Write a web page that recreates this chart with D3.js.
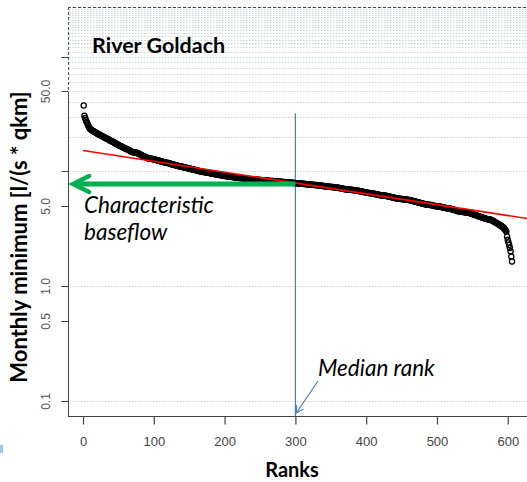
<!DOCTYPE html>
<html>
<head>
<meta charset="utf-8">
<script src="https://cdn.jsdelivr.net/npm/d3@7"></script>
<style>
  body { margin: 0; background: #fff; }
  svg { display: block; }
</style>
</head>
<body>
<div id="chart"></div>
<script>
// monthly minimum flow, sorted, rank 1..606
var minimumFlow = [
    37.5, 30.5, 29.1, 28.0, 27.0, 26.2, 25.3, 24.6, 23.8, 23.4,
    23.1, 22.9, 22.7, 22.5, 22.3, 22.1, 22.0, 21.8, 21.6, 21.4,
    21.2, 21.0, 20.9, 20.7, 20.5, 20.4, 20.2, 20.1, 19.9, 19.8,
    19.6, 19.5, 19.3, 19.2, 19.0, 18.9, 18.8, 18.6, 18.5, 18.4,
    18.2, 18.1, 17.9, 17.8, 17.6, 17.5, 17.4, 17.2, 17.1, 16.9,
    16.8, 16.7, 16.6, 16.5, 16.4, 16.3, 16.1, 16.0, 15.9, 15.8,
    15.7, 15.6, 15.5, 15.4, 15.3, 15.2, 15.0, 14.9, 14.8, 14.7,
    14.7, 14.7, 14.6, 14.6, 14.5, 14.5, 14.4, 14.3, 14.2, 14.1,
    14.0, 13.9, 13.8, 13.7, 13.6, 13.5, 13.4, 13.4, 13.3, 13.2,
    13.1, 13.0, 13.0, 12.9, 12.9, 12.9, 12.8, 12.8, 12.8, 12.7,
    12.7, 12.6, 12.6, 12.5, 12.5, 12.4, 12.4, 12.3, 12.3, 12.2,
    12.2, 12.1, 12.1, 12.0, 12.0, 12.0, 11.9, 11.9, 11.8, 11.8,
    11.8, 11.7, 11.7, 11.6, 11.6, 11.5, 11.5, 11.4, 11.4, 11.3,
    11.3, 11.3, 11.2, 11.2, 11.1, 11.1, 11.0, 11.0, 11.0, 10.9,
    10.9, 10.9, 10.8, 10.8, 10.8, 10.7, 10.7, 10.7, 10.6, 10.6,
    10.6, 10.5, 10.5, 10.4, 10.4, 10.4, 10.3, 10.3, 10.2, 10.2,
    10.2, 10.1, 10.1, 10.0, 10.0, 10.0, 9.95, 9.92, 9.90, 9.87,
    9.85, 9.82, 9.80, 9.77, 9.75, 9.72, 9.70, 9.68, 9.65, 9.62,
    9.60, 9.57, 9.55, 9.52, 9.50, 9.48, 9.45, 9.43, 9.40, 9.38,
    9.35, 9.33, 9.30, 9.28, 9.25, 9.22, 9.20, 9.18, 9.15, 9.13,
    9.11, 9.09, 9.07, 9.05, 9.04, 9.02, 9.00, 8.99, 8.97, 8.95,
    8.93, 8.91, 8.90, 8.88, 8.86, 8.84, 8.82, 8.81, 8.79, 8.77,
    8.76, 8.74, 8.72, 8.70, 8.69, 8.67, 8.66, 8.64, 8.63, 8.62,
    8.60, 8.59, 8.58, 8.57, 8.56, 8.55, 8.54, 8.52, 8.51, 8.50,
    8.49, 8.48, 8.47, 8.46, 8.45, 8.44, 8.43, 8.42, 8.41, 8.40,
    8.39, 8.38, 8.37, 8.36, 8.35, 8.34, 8.33, 8.32, 8.31, 8.30,
    8.29, 8.28, 8.27, 8.26, 8.25, 8.24, 8.23, 8.22, 8.21, 8.20,
    8.19, 8.18, 8.17, 8.16, 8.15, 8.14, 8.13, 8.12, 8.11, 8.10,
    8.09, 8.08, 8.07, 8.06, 8.05, 8.04, 8.03, 8.02, 8.01, 8.00,
    7.99, 7.98, 7.97, 7.96, 7.95, 7.94, 7.93, 7.92, 7.91, 7.90,
    7.89, 7.88, 7.87, 7.86, 7.85, 7.84, 7.82, 7.81, 7.80, 7.79,
    7.78, 7.77, 7.76, 7.75, 7.74, 7.72, 7.71, 7.70, 7.69, 7.68,
    7.67, 7.66, 7.65, 7.64, 7.63, 7.62, 7.61, 7.60, 7.59, 7.58,
    7.57, 7.56, 7.55, 7.54, 7.53, 7.52, 7.50, 7.48, 7.46, 7.44,
    7.42, 7.40, 7.39, 7.38, 7.37, 7.36, 7.35, 7.34, 7.33, 7.32,
    7.31, 7.30, 7.29, 7.28, 7.27, 7.26, 7.25, 7.24, 7.22, 7.20,
    7.18, 7.16, 7.14, 7.12, 7.10, 7.08, 7.06, 7.04, 7.02, 7.00,
    6.98, 6.97, 6.96, 6.95, 6.94, 6.93, 6.92, 6.91, 6.90, 6.89,
    6.88, 6.87, 6.86, 6.85, 6.84, 6.82, 6.80, 6.78, 6.76, 6.74,
    6.72, 6.70, 6.68, 6.66, 6.64, 6.62, 6.60, 6.58, 6.56, 6.54,
    6.52, 6.50, 6.49, 6.48, 6.47, 6.46, 6.45, 6.44, 6.42, 6.40,
    6.38, 6.36, 6.34, 6.32, 6.30, 6.28, 6.26, 6.24, 6.22, 6.20,
    6.19, 6.18, 6.17, 6.16, 6.15, 6.14, 6.13, 6.12, 6.10, 6.08,
    6.06, 6.04, 6.02, 6.00, 5.98, 5.96, 5.94, 5.92, 5.90, 5.88,
    5.86, 5.84, 5.82, 5.80, 5.79, 5.78, 5.77, 5.76, 5.75, 5.74,
    5.73, 5.72, 5.71, 5.70, 5.69, 5.68, 5.67, 5.66, 5.65, 5.64,
    5.62, 5.60, 5.58, 5.56, 5.54, 5.52, 5.50, 5.48, 5.46, 5.44,
    5.42, 5.40, 5.38, 5.36, 5.34, 5.32, 5.30, 5.28, 5.26, 5.24,
    5.22, 5.20, 5.18, 5.16, 5.15, 5.14, 5.13, 5.12, 5.11, 5.10,
    5.09, 5.08, 5.06, 5.04, 5.02, 5.00, 4.99, 4.98, 4.97, 4.96,
    4.95, 4.94, 4.93, 4.92, 4.91, 4.90, 4.88, 4.86, 4.84, 4.82,
    4.81, 4.80, 4.79, 4.78, 4.77, 4.76, 4.75, 4.74, 4.72, 4.70,
    4.68, 4.66, 4.64, 4.62, 4.60, 4.58, 4.56, 4.54, 4.52, 4.50,
    4.49, 4.48, 4.47, 4.46, 4.45, 4.44, 4.43, 4.42, 4.41, 4.40,
    4.39, 4.38, 4.37, 4.36, 4.35, 4.33, 4.31, 4.29, 4.27, 4.25,
    4.23, 4.21, 4.19, 4.17, 4.15, 4.13, 4.11, 4.09, 4.07, 4.05,
    4.03, 4.01, 3.99, 3.97, 3.95, 3.93, 3.91, 3.89, 3.87, 3.85,
    3.84, 3.83, 3.82, 3.81, 3.80, 3.78, 3.76, 3.73, 3.70, 3.67,
    3.64, 3.61, 3.58, 3.55, 3.52, 3.49, 3.46, 3.43, 3.40, 3.37,
    3.34, 3.30, 3.26, 3.22, 3.17, 3.11,
    3.05, 2.99, 2.71, 2.54, 2.40, 2.28, 2.15, 2.01, 1.81, 1.64
];

// log-linear fit drawn in red: [rank, value]
var fitLine = [[0, 15.2], [640, 3.78]];

var xTicks = [0, 100, 200, 300, 400, 500, 600];
var yTicks = [0.1, 0.5, 1, 5, 10, 50, 100];
var yTickLabels = { 0.1: '0.1', 0.5: '0.5', 1: '1.0', 5: '5.0', 50: '50.0' };
// dotted grid: 0.1, 1 and every 10 upward
var gridValues = [0.1, 1].concat(d3.range(10, 280, 10));

var medianRank = 300;
var baseflowValue = 7.75;

var width = 527, height = 482;

var svg = d3.select('#chart')
    .append('svg')
    .attr('width', width)
    .attr('height', height);

var x = d3.scaleLinear()
    .domain([-21.2, 630])
    .range([68, 529]);

var y = d3.scaleLog()
    .domain([0.074, 270])
    .range([416, 7]);

var tickFont = '"Liberation Sans", Arial, sans-serif';
var titleFont = 'Lato, "Open Sans", sans-serif';

// grid
svg.append('g')
    .selectAll('line')
    .data(gridValues)
    .enter()
    .append('line')
    .attr('x1', 69)
    .attr('x2', width)
    .attr('y1', function(d) { return Math.round(y(d)) + 0.5; })
    .attr('y2', function(d) { return Math.round(y(d)) + 0.5; })
    .attr('stroke', '#ccd2dc')
    .attr('stroke-width', 1)
    .attr('stroke-dasharray', '1.5,1.5');

// box: top dashed, left axis
svg.append('line')
    .attr('x1', 68).attr('x2', width)
    .attr('y1', 7.5).attr('y2', 7.5)
    .attr('stroke', '#444')
    .attr('stroke-dasharray', '3,2');

svg.append('line')
    .attr('x1', 68.5).attr('x2', 68.5)
    .attr('y1', 7).attr('y2', 95)
    .attr('stroke', '#555')
    .attr('stroke-dasharray', '3,2');

svg.append('line')
    .attr('x1', 68.5).attr('x2', 68.5)
    .attr('y1', 95).attr('y2', 416.5)
    .attr('stroke', '#444');

svg.append('line')
    .attr('x1', 68).attr('x2', width)
    .attr('y1', 416.5).attr('y2', 416.5)
    .attr('stroke', '#444');

// y axis
var yAxis = d3.axisLeft(y)
    .tickValues(yTicks)
    .tickSize(7)
    .tickFormat(function(d) { return yTickLabels[d] || ''; });

var yg = svg.append('g')
    .attr('transform', 'translate(68.5,0)')
    .call(yAxis);

yg.select('.domain').remove();
yg.selectAll('.tick').attr('transform', function(d) { return 'translate(0,' + (Math.round(y(d)) + 0.5) + ')'; });
yg.selectAll('.tick line').attr('stroke', '#444');
yg.selectAll('.tick text')
    .attr('x', 0)
    .attr('y', 0)
    .attr('dy', '0.35em')
    .attr('transform', 'translate(-23,0) rotate(-90)')
    .attr('text-anchor', 'middle')
    .attr('fill', '#555')
    .style('font-family', tickFont)
    .style('font-size', '12px');

// x axis
var xAxis = d3.axisBottom(x)
    .tickValues(xTicks)
    .tickSize(8)
    .tickPadding(12);

var xg = svg.append('g')
    .attr('transform', 'translate(0,416.5)')
    .call(xAxis);

xg.select('.domain').remove();
xg.selectAll('.tick line').attr('stroke', '#444').attr('stroke-width', 1.2);
xg.selectAll('.tick text')
    .attr('fill', '#444')
    .style('font-family', tickFont)
    .style('font-size', '13px');

// median rank line
svg.append('line')
    .attr('x1', x(medianRank)).attr('x2', x(medianRank))
    .attr('y1', y(32)).attr('y2', 416)
    .attr('stroke', '#4a7fc1')
    .attr('stroke-width', 1.2);

// points
svg.append('g')
    .selectAll('circle')
    .data(minimumFlow)
    .enter()
    .append('circle')
    .attr('cx', function(d, i) { return x(i + 1); })
    .attr('cy', function(d) { return y(d); })
    .attr('r', 2.6)
    .attr('fill', 'none')
    .attr('stroke', '#000')
    .attr('stroke-width', 1.3);

// red fit
svg.append('path')
    .datum(fitLine)
    .attr('d', d3.line()
        .x(function(d) { return x(d[0]); })
        .y(function(d) { return y(d[1]); }))
    .attr('fill', 'none')
    .attr('stroke', '#ff0000')
    .attr('stroke-width', 1.6);

// green baseflow arrow
var gy = y(baseflowValue);
var tipX = x(-14);
svg.append('line')
    .attr('x1', x(medianRank)).attr('x2', tipX + 3)
    .attr('y1', gy).attr('y2', gy)
    .attr('stroke', '#00b050')
    .attr('stroke-width', 5);

svg.append('path')
    .attr('d', 'M' + (tipX + 16) + ',' + (gy - 8) + 'L' + tipX + ',' + gy + 'L' + (tipX + 16) + ',' + (gy + 8))
    .attr('fill', 'none')
    .attr('stroke', '#00b050')
    .attr('stroke-width', 4.5)
    .attr('stroke-linecap', 'round');

// median rank pointer
var mx = x(medianRank);
svg.append('line')
    .attr('x1', 318).attr('x2', mx + 1)
    .attr('y1', 381).attr('y2', 413)
    .attr('stroke', '#4a7fc1')
    .attr('stroke-width', 1.2);
svg.append('path')
    .attr('d', 'M' + (mx + 1) + ',' + 405 + 'L' + (mx + 1) + ',' + 413 + 'L' + (mx + 8) + ',' + 409)
    .attr('fill', 'none')
    .attr('stroke', '#4a7fc1')
    .attr('stroke-width', 1.2);

// texts
svg.append('text')
    .attr('x', 92)
    .attr('y', 53)
    .style('font-family', titleFont)
    .style('font-weight', 'bold')
    .style('font-size', '21.5px')
    .text('River Goldach');

var ital = svg.append('text')
    .style('font-family', titleFont)
    .style('font-style', 'italic')
    .style('font-size', '22.5px');
ital.append('tspan').attr('x', 84).attr('y', 213).text('Characteristic');
ital.append('tspan').attr('x', 84).attr('y', 240).text('baseflow');

svg.append('text')
    .attr('x', 318)
    .attr('y', 376)
    .style('font-family', titleFont)
    .style('font-style', 'italic')
    .style('font-size', '22.5px')
    .text('Median rank');

svg.append('text')
    .attr('x', 292)
    .attr('y', 477)
    .attr('text-anchor', 'middle')
    .style('font-family', titleFont)
    .style('font-weight', 'bold')
    .style('font-size', '20px')
    .text('Ranks');

svg.append('text')
    .attr('transform', 'translate(27,237) rotate(-90)')
    .attr('text-anchor', 'middle')
    .style('font-family', titleFont)
    .style('font-weight', 'bold')
    .style('font-size', '22px')
    .text('Monthly minimum [l/(s * qkm]');

svg.append('rect')
    .attr('x', 0).attr('y', 445)
    .attr('width', 3).attr('height', 8)
    .attr('fill', '#9dc3e6');
</script>
</body>
</html>
